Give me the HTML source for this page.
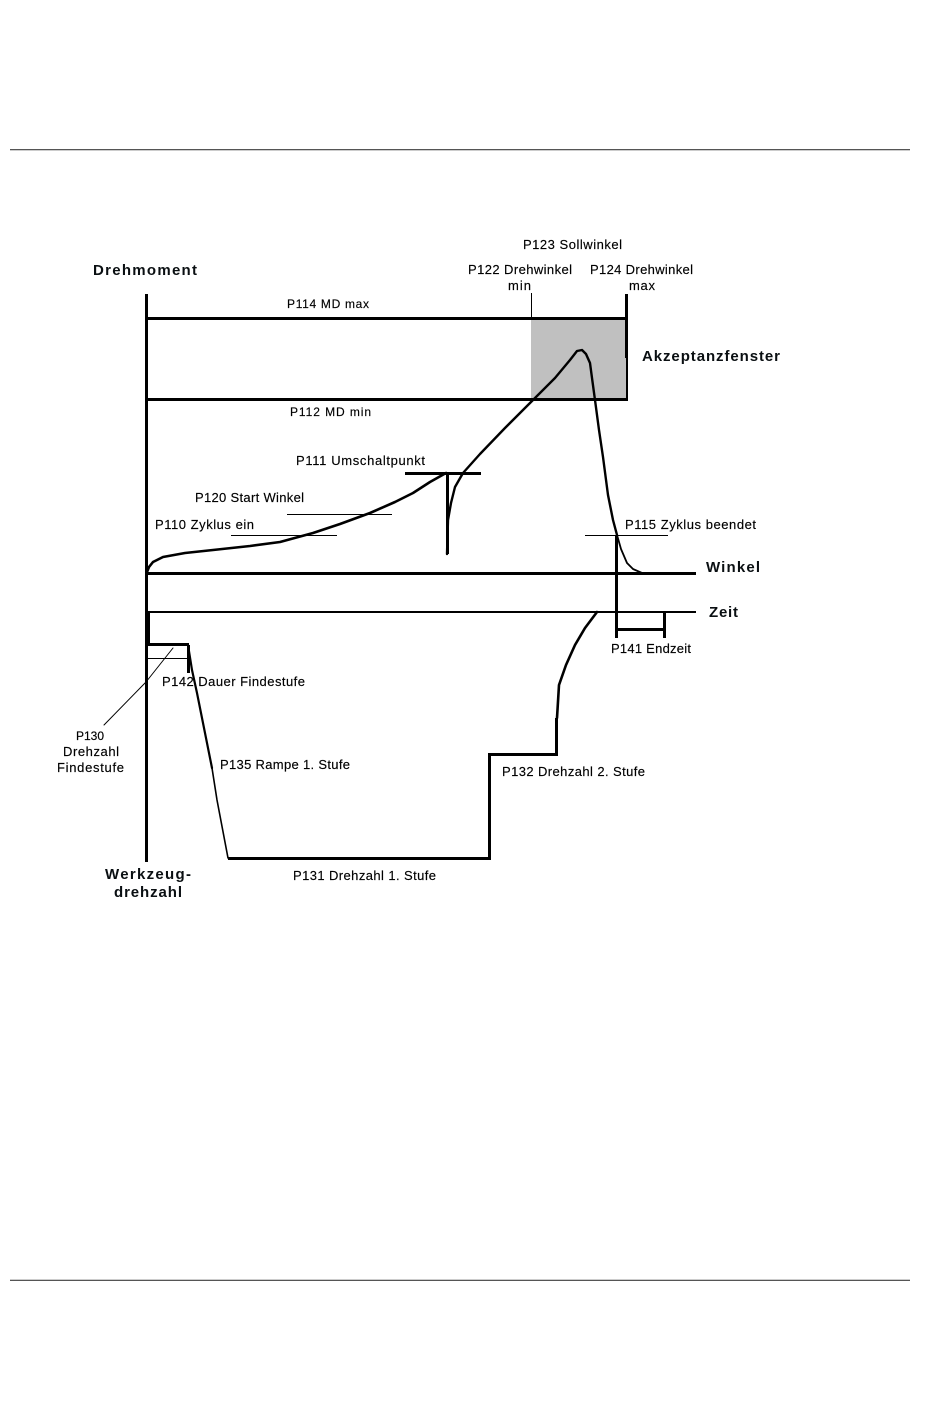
<!DOCTYPE html>
<html>
<head>
<meta charset="utf-8">
<title>Drehmoment Diagramm</title>
<style>
html,body{margin:0;padding:0;background:#fff;width:950px;height:1420px;overflow:hidden}
svg{display:block}
text{font-family:"Liberation Sans",sans-serif;font-size:13px;fill:#000;stroke:#000;stroke-width:.15}
text.s{font-size:12px}
text.b{font-weight:bold;font-size:15px;fill:#0a0f12;stroke:none}
</style>
</head>
<body>
<svg width="950" height="1420" viewBox="0 0 950 1420" xmlns="http://www.w3.org/2000/svg">
<rect x="10" y="149" width="900" height="1" fill="#555"/>
<rect x="10" y="150" width="900" height="1" fill="#ccc"/>
<rect x="10" y="1279" width="900" height="1" fill="#ccc"/>
<rect x="10" y="1280" width="900" height="1" fill="#555"/>

<rect x="531" y="318" width="96" height="82" fill="#c0c0c0"/>

<g fill="#000" shape-rendering="crispEdges">
<rect x="145" y="294" width="3" height="568"/>
<rect x="146" y="612" width="4" height="33"/>
<rect x="147" y="317" width="481" height="3"/>
<rect x="147" y="398" width="481" height="3"/>
<rect x="531" y="293" width="1" height="25"/>
<rect x="625" y="294" width="3" height="64"/>
<rect x="626" y="358" width="2" height="42"/>
<rect x="147" y="572" width="549" height="3"/>
<rect x="147" y="611" width="549" height="2"/>
<rect x="287" y="514" width="105" height="1"/>
<rect x="231" y="535" width="106" height="1"/>
<rect x="405" y="472" width="76" height="3"/>
<rect x="446" y="473" width="3" height="81"/>
<rect x="585" y="535" width="83" height="1"/>
<rect x="615" y="535" width="3" height="103"/>
<rect x="663" y="612" width="3" height="26"/>
<rect x="617" y="628" width="47" height="3"/>
<rect x="148" y="643" width="41" height="3"/>
<rect x="187" y="645" width="3" height="28"/>
<rect x="147" y="658" width="41" height="1"/>
<rect x="228" y="857" width="262" height="3"/>
<rect x="488" y="754" width="3" height="106"/>
<rect x="488" y="753" width="70" height="3"/>
<rect x="555" y="718" width="3" height="37"/>
</g>

<g fill="none" stroke="#000" stroke-linejoin="round" stroke-linecap="round">
<path stroke-width="2.6" d="M147,572 L149,567 L153,562 L163,557 L185,553 L213,550 L250,546 L280,542 L313,533 L340,524 L370,513 L395,502 L413,493 L430,482 L446,473"/>
<path stroke-width="2.4" d="M447,554 L448,520 L451,503 L455,487 L463,473 L480,454 L505,428 L533,400 L555,378 L570,360 L577,351 L582,350 L586,354 L590,363 L592,378 L595,400 L599,430 L603,457 L608,495 L613,520 L617,535"/>
<path stroke-width="1.8" d="M617,535 L621,549 L627,563 L633,569 L642,573"/>
<path stroke-width="2.2" d="M188,645 L192,670 L197,693 L203,723 L212,768"/>
<path stroke-width="1.6" d="M212,768 L217,800 L228,858"/>
<path stroke-width="1" d="M104,725 L146,682 L173,648"/>
<path stroke-width="2.6" d="M557,718 L559,685 L566,665 L575,645 L585,628 L597,612"/>
</g>

<text class="b" x="93" y="275" textLength="104">Drehmoment</text>
<text class="b" x="642" y="361" textLength="138">Akzeptanzfenster</text>
<text class="b" x="706" y="572" textLength="54">Winkel</text>
<text class="b" x="709" y="617" textLength="29">Zeit</text>
<text class="b" x="105" y="879" textLength="86">Werkzeug-</text>
<text class="b" x="114" y="897" textLength="68">drehzahl</text>

<text class="s" x="287" y="308" textLength="82">P114 MD max</text>
<text class="s" x="290" y="416" textLength="81">P112 MD min</text>
<text x="296" y="465" textLength="129">P111 Umschaltpunkt</text>
<text x="195" y="502" textLength="109">P120 Start Winkel</text>
<text x="155" y="529" textLength="99">P110 Zyklus ein</text>
<text x="523" y="249" textLength="99">P123 Sollwinkel</text>
<text x="468" y="274" textLength="104">P122 Drehwinkel</text>
<text x="508" y="290" textLength="23">min</text>
<text x="590" y="274" textLength="103">P124 Drehwinkel</text>
<text x="629" y="290" textLength="26">max</text>
<text x="625" y="529" textLength="131">P115 Zyklus beendet</text>
<text x="611" y="653" textLength="80">P141 Endzeit</text>
<text x="502" y="776" textLength="143">P132 Drehzahl 2. Stufe</text>
<text x="293" y="880" textLength="143">P131 Drehzahl 1. Stufe</text>
<text x="220" y="769" textLength="130">P135 Rampe 1. Stufe</text>
<text x="162" y="686" textLength="143">P142 Dauer Findestufe</text>
<text class="s" x="76" y="740" textLength="28">P130</text>
<text x="63" y="756" textLength="56">Drehzahl</text>
<text x="57" y="772" textLength="67">Findestufe</text>
</svg>
</body>
</html>
